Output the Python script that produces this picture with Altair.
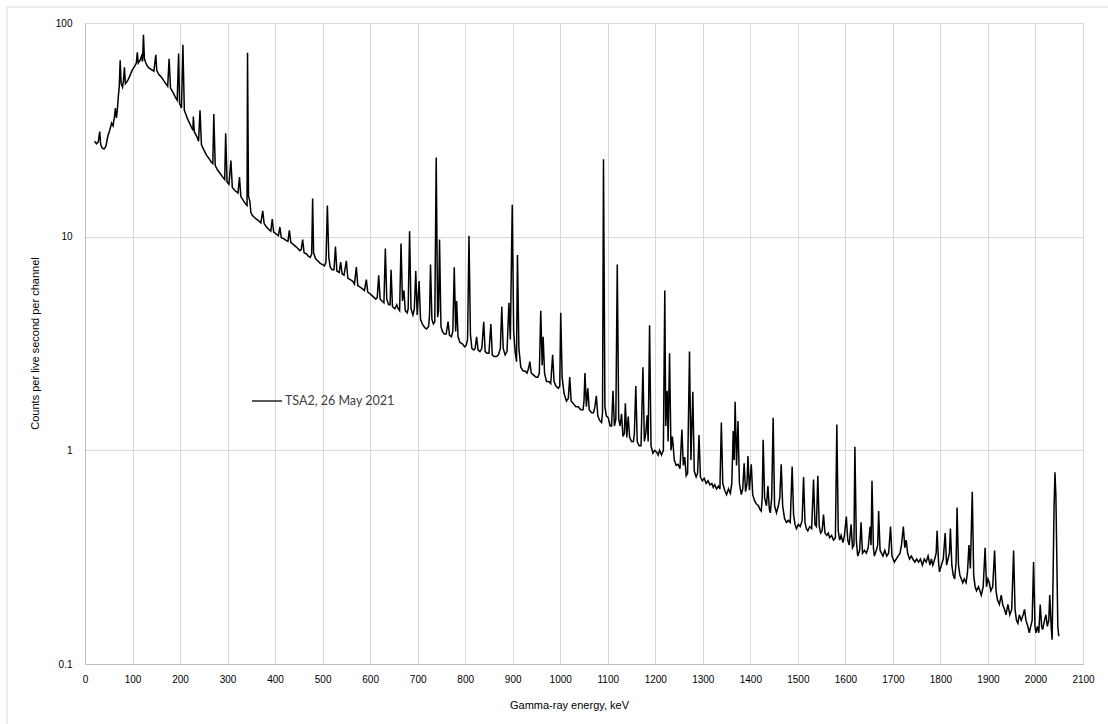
import altair as alt
import pandas as pd

# Gamma-ray energy (keV) and counts per live second per channel
energy_kev = [
    20, 24, 28, 31, 33, 36, 40, 44, 48, 52, 56, 59, 62, 64, 66, 68, 70, 72, 74, 76, 79, 81, 83, 85, 88, 91, 95, 99,
    102, 105, 108, 110, 112, 116, 119, 121, 123, 125, 128, 131,
    135, 140, 145, 149, 151, 155, 160, 165, 170, 174, 177, 180, 185, 190, 194, 197, 199, 203, 206, 209, 212, 216,
    220, 224, 227, 228, 230, 235, 239, 242, 245, 250, 256, 262, 266, 269, 271, 274, 279, 284, 290, 294, 296, 299,
    303, 307, 310, 316, 322, 325, 328, 333, 338, 341, 342, 344, 346, 347, 349, 352,
    355, 360, 365, 370, 374, 377, 382, 387, 391, 394, 397, 402, 407, 410, 413, 418, 423, 427, 430, 433, 438, 443,
    448, 452, 455, 458, 461, 466, 470, 474, 477, 479, 481, 485, 490, 495, 500, 504, 507, 510, 513, 516, 520, 524,
    527, 530, 535, 538, 541, 545, 550, 553, 558, 563, 567, 571, 574, 579, 584, 588, 592, 595, 600,
    604, 608, 612, 615, 618, 621, 625, 629, 632, 635, 639, 642, 644, 647, 652, 656, 659, 662, 665, 668, 671, 674,
    678, 680, 683, 686, 690, 693, 696, 699, 703, 706, 710, 715, 719, 723, 725, 727, 730, 733, 736, 739, 742, 744,
    746, 749, 752, 756, 760, 764, 767, 771, 774, 777, 780, 782, 785, 789, 794, 799,
    802, 805, 808, 811, 814, 818, 821, 824, 827, 831, 835, 839, 842, 846, 850, 854, 857, 861, 866, 870, 874, 877,
    880, 884, 888, 892, 895, 899, 902, 905, 908, 910, 913, 917, 922, 926, 930, 933, 936, 939, 944, 949, 953, 956,
    959, 962, 964, 967, 971, 976, 980, 984, 987, 991, 996, 999, 1001, 1004, 1008,
    1013, 1017, 1020, 1023, 1028, 1033, 1038, 1043, 1048, 1050, 1052, 1055, 1058, 1061, 1066, 1070, 1073, 1076,
    1079, 1083, 1087, 1089, 1091, 1094, 1097, 1101, 1105, 1108, 1111, 1114, 1117, 1120, 1123, 1126, 1129, 1132,
    1135, 1137, 1140, 1143, 1146, 1150, 1154, 1156, 1159, 1162, 1166, 1170, 1174, 1177, 1180, 1183, 1185, 1188,
    1191, 1195, 1199, 1203, 1206, 1209, 1213, 1217, 1220, 1222, 1225, 1227, 1230, 1233, 1236, 1240, 1244, 1248,
    1252, 1256, 1259, 1262, 1265, 1268, 1272, 1275, 1279, 1282, 1286, 1289, 1292, 1295, 1299,
    1303, 1307, 1311, 1315, 1319, 1322, 1325, 1329, 1333, 1336, 1339, 1342, 1346, 1350, 1354, 1358, 1361, 1364,
    1366, 1368, 1371, 1374, 1377, 1381, 1384, 1387, 1390, 1393, 1395, 1398, 1402, 1405, 1409, 1413, 1417, 1420,
    1423, 1425, 1427, 1430, 1434, 1437, 1440, 1442, 1445, 1448, 1451, 1455, 1459, 1462, 1465, 1468, 1472, 1476,
    1480, 1484, 1488, 1491, 1494, 1497, 1501, 1505, 1509, 1512, 1515, 1518, 1521, 1525, 1529, 1533, 1536, 1539,
    1542, 1545, 1548, 1551, 1554, 1557, 1561, 1564, 1567, 1571, 1575, 1579, 1582, 1585, 1588, 1591, 1595, 1598,
    1602, 1605, 1608, 1612, 1615, 1618, 1620, 1623, 1626, 1630, 1633, 1636, 1640, 1644, 1648, 1652, 1654, 1656,
    1659, 1661, 1665, 1668, 1670, 1673, 1676, 1679, 1683, 1687, 1691, 1695, 1698, 1703, 1707, 1711, 1715, 1718,
    1722, 1725, 1728, 1731, 1735, 1739, 1742, 1746, 1750, 1754, 1758, 1762, 1766, 1770, 1774, 1778, 1781, 1784,
    1788, 1791, 1793, 1796, 1798, 1802, 1806, 1810, 1813, 1816, 1819, 1821, 1824, 1827, 1830, 1833, 1835, 1838,
    1841, 1844, 1847, 1850, 1854, 1857, 1860, 1863, 1867, 1870, 1873, 1876, 1880, 1883, 1886, 1890, 1894, 1897,
    1900, 1903, 1906, 1910, 1914, 1917, 1920, 1924, 1928, 1931, 1935, 1938, 1942, 1946, 1950, 1954, 1957, 1960,
    1963, 1966, 1970, 1974, 1977, 1980, 1984, 1987, 1990, 1993, 1996, 1999, 2001, 2004, 2007, 2010, 2013, 2015,
    2019, 2022, 2025, 2028, 2030, 2033, 2035, 2037, 2039, 2041, 2043, 2045, 2047, 2049,
]

counts_per_s = [
    28.0, 27.2, 27.8, 31.0, 27.0, 26.0, 25.7, 26.5, 29.5, 31.5, 34.0, 33.0, 36.5, 40.0, 36.0, 39.0, 45.0, 50.0, 67.0,
    52.0, 50.0, 54.0, 62.0, 52.0, 53.0, 54.5, 57.0, 60.0,
    61.5, 63.0, 65.0, 73.0, 65.0, 67.0, 70.0, 66.0, 88.0, 68.0, 65.0, 63.0,
    61.5, 60.5, 59.5, 71.0, 60.0, 57.5, 56.0, 54.0, 52.0, 50.5, 68.0, 49.5, 47.5, 45.0, 43.5, 72.0, 42.0, 40.0,
    79.0, 39.0, 37.5, 35.5,
    34.0, 32.5, 31.5, 36.5, 31.0, 29.5, 28.0, 39.0, 27.0, 25.5, 24.0, 23.0, 22.3, 22.0, 37.5, 21.5, 20.5, 19.8,
    19.0, 18.5, 30.5, 18.0,
    17.6, 22.7, 17.0, 16.4, 16.0, 19.0, 15.4, 14.8, 14.2, 14.0, 72.5, 15.5, 14.9, 14.6, 13.0, 12.6,
    12.4, 12.1, 11.9, 11.6, 13.2, 11.5, 11.1, 10.8, 10.6, 12.1, 10.5, 10.3, 10.1, 11.1, 9.9, 9.8, 9.6, 9.5, 10.7,
    9.4, 9.2, 9.0,
    8.8, 8.6, 8.7, 9.7, 8.4, 8.3, 8.1, 8.0, 8.3, 15.1, 8.4, 7.9, 7.7, 7.5, 7.4, 7.3, 7.6, 14.0, 8.0, 7.2, 7.0, 7.0,
    9.0, 6.9, 6.8, 7.6, 6.7, 6.6, 7.7, 6.4, 6.3, 6.2, 6.0, 7.2, 5.9, 5.8, 5.7, 5.6, 6.3, 5.5, 5.4,
    5.3, 5.2, 5.1, 5.2, 6.6, 5.1, 5.0, 4.9, 8.8, 5.1, 4.8, 4.8, 7.0, 4.7, 4.6, 4.8, 4.6, 4.5, 9.3, 5.0, 5.6, 4.5,
    4.4, 4.6, 10.6, 4.6, 4.3, 4.6, 6.9, 4.3, 6.2, 4.1, 3.9, 3.75, 3.7, 3.8, 4.3, 7.4, 4.1, 3.9, 4.0, 23.5, 4.2, 4.5,
    9.7, 3.8, 3.6, 3.5, 3.5, 4.0, 3.45, 3.4, 3.6, 7.2, 3.6, 5.0, 3.4, 3.2, 3.15, 3.05,
    3.1, 3.3, 10.1, 3.5, 3.0, 2.95, 3.0, 3.4, 2.95, 2.9, 3.0, 4.0, 2.9, 2.85, 2.85, 3.9, 2.8, 2.75, 2.75, 2.8, 3.0,
    4.7,
    3.0, 2.8, 2.9, 4.9, 3.3, 14.1, 3.6, 2.9, 2.6, 8.2, 3.0, 2.45, 2.35, 2.35, 2.3, 2.4, 2.6, 2.3, 2.25, 2.2, 2.2,
    2.3,
    4.5, 2.5, 3.4, 2.3, 2.1, 2.1, 2.05, 2.8, 2.1, 2.0, 1.95, 2.0, 4.4, 2.2, 1.85,
    1.7, 1.75, 2.2, 1.7, 1.65, 1.6, 1.6, 1.55, 1.55, 1.7, 2.3, 1.6, 1.95, 1.55, 1.5, 1.5, 1.6, 1.8,
    1.45, 1.38, 1.35, 1.5, 23.0, 1.6, 1.45, 1.42, 1.3, 1.3, 1.9, 1.3, 1.4, 7.4, 1.4, 1.3, 1.48, 1.16,
    1.2, 1.66, 1.15, 1.44, 1.15, 1.1, 1.1, 1.2, 2.0, 1.1, 1.05, 1.05, 2.45, 1.1, 1.2, 1.46, 1.1, 3.85,
    1.05, 0.97, 1.0, 0.98, 0.95, 1.0, 0.95, 1.0, 5.6, 1.3, 1.9, 1.1, 2.85, 1.0, 1.16, 0.9, 0.85, 0.86,
    0.82, 1.25, 0.85, 0.93, 0.76, 0.78, 2.9, 0.9, 1.88, 0.8, 0.75, 0.78, 1.18, 0.75, 0.72,
    0.74, 0.70, 0.72, 0.69, 0.70, 0.67, 0.69, 0.66, 0.68, 0.66, 1.35, 0.70, 0.65, 0.62, 0.66, 0.63, 0.7, 1.23,
    0.9, 1.69, 0.85, 1.37, 0.7, 0.62, 0.66, 0.87, 0.64, 0.7, 0.94, 0.65, 0.86, 0.62, 0.58, 0.56, 0.55, 0.53,
    0.52, 0.6, 1.12, 0.6, 0.55, 0.68, 0.53, 0.51, 0.6, 1.42, 0.55, 0.51, 0.55, 0.6, 0.86, 0.55, 0.48, 0.46,
    0.47, 0.46, 0.84, 0.5, 0.45, 0.43, 0.45, 0.44, 0.47, 0.75, 0.46, 0.43, 0.42, 0.44, 0.43, 0.73, 0.45, 0.44,
    0.76, 0.44, 0.41, 0.42, 0.50, 0.41, 0.40, 0.41, 0.39, 0.40, 0.38, 0.39, 1.32, 0.42, 0.38, 0.40, 0.37, 0.40,
    0.49, 0.38, 0.36, 0.45, 0.35, 0.36, 1.04, 0.38, 0.32, 0.34, 0.46, 0.33, 0.34, 0.33, 0.35, 0.44, 0.36, 0.72,
    0.35, 0.32, 0.34, 0.36, 0.52, 0.34, 0.33, 0.32, 0.34, 0.32, 0.33, 0.44, 0.32, 0.30, 0.31, 0.32, 0.33, 0.36,
    0.44, 0.35, 0.38, 0.33, 0.31, 0.32, 0.31, 0.30, 0.31, 0.30, 0.31, 0.29, 0.31, 0.30, 0.32, 0.29, 0.31, 0.29,
    0.31, 0.33, 0.42, 0.30, 0.27, 0.29, 0.31, 0.41, 0.29, 0.31, 0.33, 0.43, 0.29, 0.26, 0.25, 0.30, 0.54, 0.29,
    0.26, 0.25, 0.24, 0.25, 0.24, 0.27, 0.36, 0.28, 0.64, 0.26, 0.23, 0.22, 0.23, 0.22, 0.21, 0.23, 0.35, 0.23,
    0.25, 0.24, 0.22, 0.23, 0.34, 0.22, 0.20, 0.19, 0.21, 0.19, 0.18, 0.17, 0.19, 0.17, 0.18, 0.34, 0.18, 0.16,
    0.155, 0.17, 0.16, 0.17, 0.18, 0.16, 0.15, 0.14, 0.15, 0.16, 0.30, 0.15, 0.14, 0.15, 0.14, 0.19, 0.15, 0.145,
    0.16, 0.17, 0.15, 0.16, 0.21, 0.15, 0.13, 0.25, 0.53, 0.79, 0.61, 0.30, 0.15, 0.135,
]

series_name = "TSA2, 26 May 2021"
x_ticks = list(range(0, 2101, 100))
y_ticks = [0.1, 1, 10, 100]

df = pd.DataFrame({"energy": energy_kev, "cps": counts_per_s, "series": series_name})

FONT = "Lato"
TXT = "#595959"

line = alt.Chart(df).mark_line(strokeWidth=1.5, clip=True).encode(
    x=alt.X(
        "energy:Q",
        scale=alt.Scale(domain=[0, 2100], nice=False, zero=False),
        axis=alt.Axis(
            values=x_ticks, format="d", title="Gamma-ray energy, keV", grid=True, ticks=False,
            labelPadding=10, titleX=484, titleY=41, titleBaseline="middle",
            titleFontWeight="normal", domainColor="#bfbfbf", gridColor="#d9d9d9",
            labelFlush=False,
        ),
    ),
    y=alt.Y(
        "cps:Q",
        scale=alt.Scale(type="log", domain=[0.1, 100], nice=False),
        axis=alt.Axis(
            values=y_ticks, format="~g", title="Counts per live second per channel",
            grid=True, ticks=False, labelPadding=13, titleX=-50, titleY=320,
            titleBaseline="middle", titleFontWeight="normal",
            domainColor="#bfbfbf", gridColor="#d9d9d9",
        ),
    ),
    color=alt.Color(
        "series:N",
        scale=alt.Scale(domain=[series_name], range=["black"]),
        legend=alt.Legend(
            title=None, orient="none", legendX=166, legendY=362, symbolType="stroke",
            symbolSize=900, symbolStrokeWidth=1.3, labelFontSize=12.5, labelFont=FONT,
            labelColor="#404040", labelOffset=2, padding=0,
        ),
    ),
)

frame = alt.Chart(pd.DataFrame({"k": [0]})).mark_rect(
    fill=None, stroke="#d9d9d9", strokeWidth=1, clip=False
).encode(
    x=alt.value(-78), x2=alt.value(1108 - 85 + 20), y=alt.value(-16), y2=alt.value(724 - 23 + 20)
)

chart = alt.layer(frame, line).properties(
    width=998, height=641,
    autosize=alt.AutoSizeParams(type="none"),
    padding={"left": 85, "top": 23, "right": 25, "bottom": 60},
).configure_view(stroke=None).configure_axis(
    labelFont=FONT, titleFont=FONT, labelFontSize=12, titleFontSize=12,
    labelColor=TXT, titleColor="#404040", titleFontWeight="normal",
).configure(background="white")

chart.save("out.html", embed_options={"renderer": "svg", "actions": False})
